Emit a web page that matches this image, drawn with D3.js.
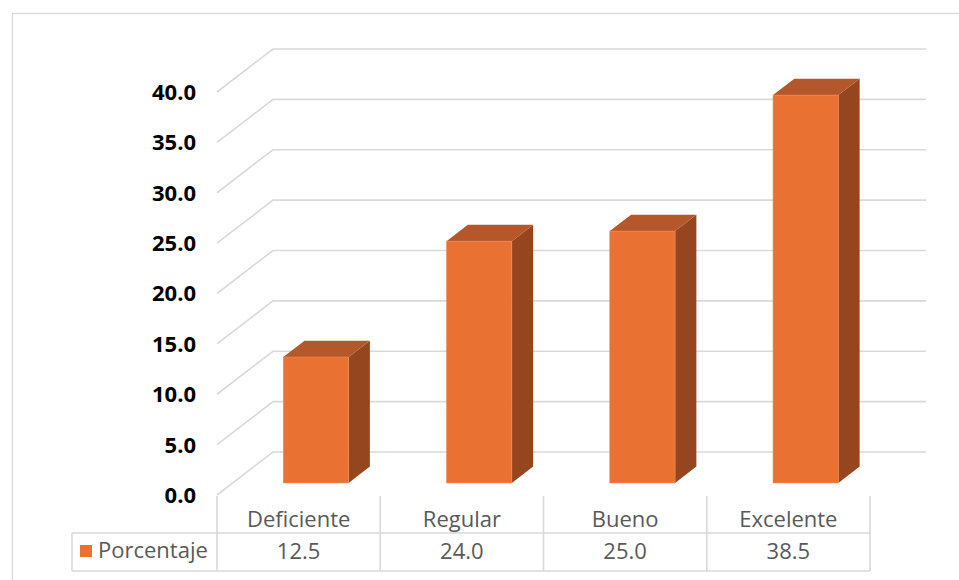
<!DOCTYPE html>
<html>
<head>
<meta charset="utf-8">
<script src="https://cdn.jsdelivr.net/npm/d3@7"></script>
<style>
  html, body { margin: 0; padding: 0; background: #ffffff; }
  svg { display: block; }
</style>
</head>
<body>
<svg id="chart" width="959" height="580"></svg>
<script>
// Data
const categories = ["Deficiente", "Regular", "Bueno", "Excelente"];
const values = [12.5, 24.0, 25.0, 38.5];
const seriesName = "Porcentaje";
const yTicks = [0, 5, 10, 15, 20, 25, 30, 35, 40];

// Colours
const gridColor = "#D9D9D9";
const frontColor = "#E97132";
const topColor = "#B4572A";
const sideColor = "#95461F";

const svg = d3.select("#chart");

// Plot geometry (front plane of the floor / oblique depth vector)
const plotLeft = 217, plotRight = 870;
const depth = { dx: 56, dy: -43 };

const x = d3.scaleBand().domain(categories).range([plotLeft, plotRight]);
const y = d3.scaleLinear().domain([0, 40]).range([495, 92]);

// Outer frame
svg.append("rect")
  .attr("x", 12.5).attr("y", 13.5)
  .attr("width", 980).attr("height", 620)
  .attr("fill", "none")
  .attr("stroke", gridColor)
  .attr("stroke-width", 1.3);

// Gridlines: slanted segment on the side wall + horizontal on the back wall
const grid = svg.append("g").attr("fill", "none")
  .attr("stroke", gridColor).attr("stroke-width", 1.6);
yTicks.forEach(t => {
  const y0 = y(t);
  grid.append("path")
    .attr("d", d3.line()([
      [plotLeft, y0],
      [plotLeft + depth.dx, y0 + depth.dy],
      [plotRight + depth.dx, y0 + depth.dy]
    ]));
});

// 3D columns
const d0 = 0.28, d1 = 0.66;          // depth span of each column
const padIn = 0.31, barW = 0.40;     // share of band
const bars = svg.append("g");
categories.forEach((c, i) => {
  const v = values[i];
  const bx = x(c) + x.bandwidth() * padIn + depth.dx * d0;
  const bw = x.bandwidth() * barW;
  const by0 = y(0) + depth.dy * d0;
  const byTop = y(v) + depth.dy * d0;
  const ddx = depth.dx * (d1 - d0), ddy = depth.dy * (d1 - d0);
  // side face
  bars.append("path")
    .attr("d", d3.line()([
      [bx + bw, byTop], [bx + bw + ddx, byTop + ddy],
      [bx + bw + ddx, by0 + ddy], [bx + bw, by0]
    ]) + "Z")
    .attr("fill", sideColor);
  // top face
  bars.append("path")
    .attr("d", d3.line()([
      [bx, byTop], [bx + ddx, byTop + ddy],
      [bx + bw + ddx, byTop + ddy], [bx + bw, byTop]
    ]) + "Z")
    .attr("fill", topColor);
  // front face
  bars.append("rect")
    .attr("x", bx).attr("y", byTop)
    .attr("width", bw).attr("height", by0 - byTop)
    .attr("fill", frontColor)
    .attr("stroke", "#F08A55").attr("stroke-width", 0.6);
});

// Value axis labels
svg.append("g")
  .selectAll("text")
  .data(yTicks)
  .join("text")
  .attr("x", 196)
  .attr("y", d => y(d))
  .attr("dy", "0.36em")
  .attr("text-anchor", "end")
  .attr("font-family", "'Open Sans', sans-serif")
  .attr("font-weight", "bold")
  .attr("font-size", 22)
  .attr("fill", "#000000")
  .text(d => d3.format(".1f")(d));

// Data table under the plot
const tableTop = 496, rowMid = 533, tableBottom = 571, legendLeft = 72;
const table = svg.append("g").attr("stroke", gridColor).attr("stroke-width", 1.6).attr("fill", "none");
// vertical separators
[plotLeft, ...categories.map(c => x(c) + x.bandwidth())].forEach(xx => {
  table.append("line").attr("x1", xx).attr("x2", xx).attr("y1", tableTop).attr("y2", tableBottom);
});
table.append("line").attr("x1", legendLeft).attr("x2", legendLeft).attr("y1", rowMid).attr("y2", tableBottom);
table.append("line").attr("x1", legendLeft).attr("x2", plotRight).attr("y1", rowMid).attr("y2", rowMid);
table.append("line").attr("x1", legendLeft).attr("x2", plotRight).attr("y1", tableBottom).attr("y2", tableBottom);

const textStyle = sel => sel
  .attr("font-family", "'Open Sans', sans-serif")
  .attr("font-size", 22)
  .attr("fill", "#595959");

// Category labels
svg.append("g").selectAll("text")
  .data(categories).join("text")
  .attr("x", d => x(d) + x.bandwidth() / 2)
  .attr("y", 527)
  .attr("text-anchor", "middle")
  .call(textStyle)
  .text(d => d);

// Values row
svg.append("g").selectAll("text")
  .data(values).join("text")
  .attr("x", (d, i) => x(categories[i]) + x.bandwidth() / 2)
  .attr("y", 559)
  .attr("text-anchor", "middle")
  .call(textStyle)
  .text(d => d3.format(".1f")(d));

// Legend key in the table
svg.append("rect")
  .attr("x", 80).attr("y", 545).attr("width", 12).attr("height", 12)
  .attr("fill", frontColor);
svg.append("text")
  .attr("x", 98).attr("y", 558)
  .call(textStyle)
  .text(seriesName);
</script>
</body>
</html>
